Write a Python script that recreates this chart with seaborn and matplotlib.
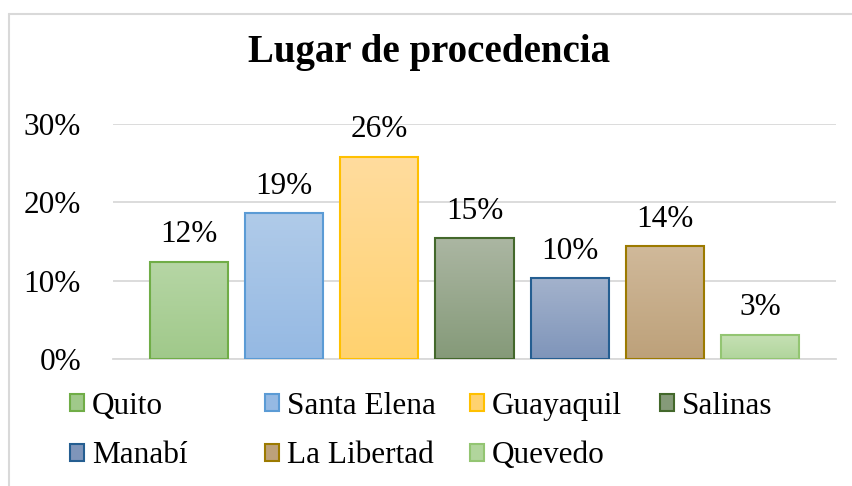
import numpy as np
import pandas as pd
import seaborn as sns
import matplotlib.pyplot as plt
from matplotlib.patches import Patch
from matplotlib.lines import Line2D
from matplotlib.colors import to_rgb
from matplotlib.ticker import PercentFormatter

# datos
lugares = ['Quito', 'Santa Elena', 'Guayaquil', 'Salinas', 'Manabí', 'La Libertad', 'Quevedo']
porcentajes = [0.124, 0.186, 0.258, 0.154, 0.103, 0.144, 0.031]

# colores estilo excel (degradado arriba -> abajo y borde)
color_arriba = ['#b6d6a5', '#b0cbe9', '#ffdc9e', '#abb6a2', '#a3b2cc', '#d0b99a', '#c6e1b5']
color_abajo = ['#a0c98a', '#95b9e3', '#ffd26f', '#859a79', '#7f95ba', '#bda17a', '#b1d59c']
color_borde = ['#70ad47', '#5b9bd5', '#ffc000', '#43682b', '#255e91', '#9c7a00', '#93c572']

df = pd.DataFrame({'lugar': lugares, 'pct': porcentajes})

sns.set_theme(style='white')
plt.rcParams['font.family'] = ['Liberation Serif', 'DejaVu Serif']
plt.rcParams['text.color'] = 'black'
plt.rcParams['ytick.color'] = 'black'

FS = 22.5
W, H = 852, 486
fig = plt.figure(figsize=(W / 100, H / 100), dpi=100)
ax = fig.add_axes([113 / W, (H - 359) / H, (836 - 113) / W, (359 - 124) / H])

sns.barplot(data=df, x='lugar', y='pct', hue='lugar', hue_order=lugares,
            palette=dict(zip(lugares, color_abajo)), width=0.82, dodge=False,
            legend=False, ax=ax)

# degradado vertical dentro de cada barra
for bar, top, bottom, edge in zip(ax.patches, color_arriba, color_abajo, color_borde):
    x0, y0 = bar.get_x(), bar.get_y()
    w, h = bar.get_width(), bar.get_height()
    grad = np.linspace(to_rgb(top), to_rgb(bottom), 64).reshape(64, 1, 3)
    im = ax.imshow(grad, extent=[x0, x0 + w, y0, y0 + h], aspect='auto',
                   origin='upper', zorder=2, interpolation='bilinear')
    im.set_clip_path(bar)
    bar.set_facecolor('none')
    bar.set_edgecolor(edge)
    bar.set_linewidth(1.5)
    bar.set_zorder(3)

ax.set_xlim(-0.8, 6.8)
ax.set_ylim(0, 0.30)

for cont in ax.containers:
    ax.bar_label(cont, fmt=lambda v: f'{v:.0%}', padding=9, fontsize=FS, color='black')

ax.set_yticks([0, 0.1, 0.2, 0.3])
ax.yaxis.set_major_formatter(PercentFormatter(1, decimals=0))
ax.tick_params(axis='y', length=0, pad=23, labelsize=FS)
ax.set_xticks([])
ax.set_xlabel('')
ax.set_ylabel('')
ax.grid(axis='y', color='#d9d9d9', lw=1.3)
ax.set_axisbelow(True)
for s in ['left', 'top', 'right']:
    ax.spines[s].set_visible(False)
ax.spines['bottom'].set_color('#d9d9d9')
ax.spines['bottom'].set_linewidth(1.3)

fig.text(429.5 / W, 1 - 62 / H, 'Lugar de procedencia', ha='center', va='baseline',
         fontsize=28, fontweight='bold', color='black')

# leyenda en columnas como en excel
handles = [Patch(facecolor=a, edgecolor=e, lw=1.5)
           for a, e in zip(color_abajo, color_borde)]
columnas = [[0, 4], [1, 5], [2, 6], [3]]
xs = [70, 265, 470, 660]
for idx, x in zip(columnas, xs):
    fig.legend([handles[i] for i in idx], [lugares[i] for i in idx],
               loc='upper left', bbox_to_anchor=(x / W, 1 - 392 / H),
               frameon=False, borderpad=0, borderaxespad=0,
               handlelength=0.45, handleheight=0.45, handletextpad=0.25,
               labelspacing=0.65, fontsize=FS, labelcolor='black')

# marco del area del grafico
fig.add_artist(Line2D([9 / W, 9 / W], [0, 1 - 14 / H], transform=fig.transFigure,
                      color='#d9d9d9', lw=1.5))
fig.add_artist(Line2D([9 / W, 1], [1 - 14 / H, 1 - 14 / H], transform=fig.transFigure,
                      color='#d9d9d9', lw=1.5))

fig.savefig('out.png', dpi=100)
